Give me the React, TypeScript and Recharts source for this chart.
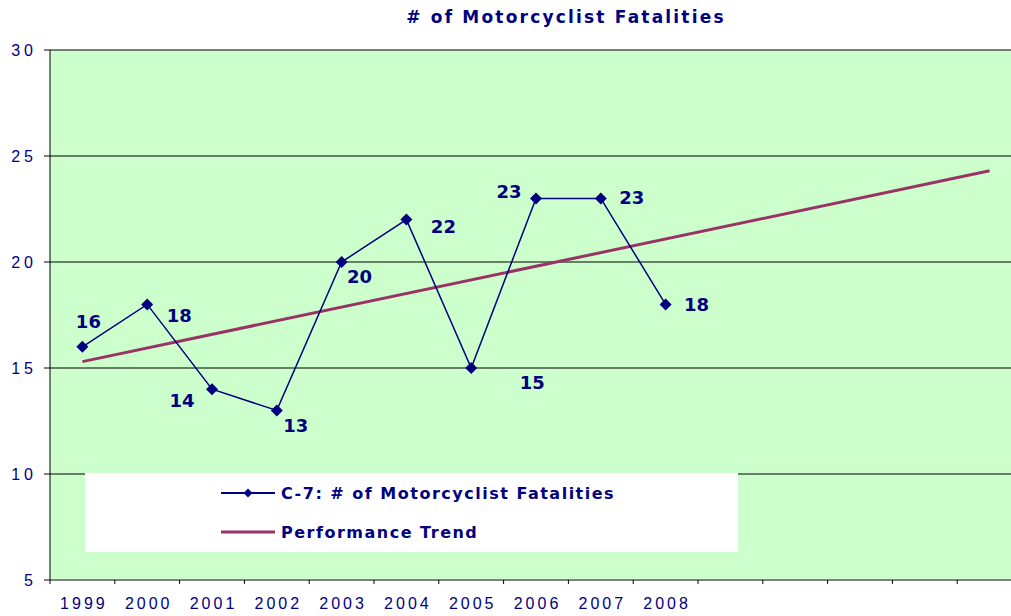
import { LineChart, Line, XAxis, YAxis, CartesianGrid, Legend, LabelList } from "recharts"

// category axis runs past the picture: 15 slots, only 1999-2008 are labelled
const YEARS = [
  "1999", "2000", "2001", "2002", "2003", "2004", "2005", "2006",
  "2007", "2008", "2009", "2010", "2011", "2012", "2013",
]
const LABELED_COUNT = 10

const FATALITIES = [16, 18, 14, 13, 20, 22, 15, 23, 23, 18]
// straight trend line: read at its two ends (1999 and the last slot)
const TREND = [15.3, null, null, null, null, null, null, null, null, null, null, null, null, null, 24.3]

const Y_TICKS = [5, 10, 15, 20, 25, 30]

const SERIES_NAMES: Record<string, string> = {
  fatalities: "C-7: # of Motorcyclist Fatalities",
  trend: "Performance Trend",
}
const SERIES_ORDER = ["fatalities", "trend"]

// where each value label sits relative to its point (text centre)
const LABEL_OFFSETS: Array<[number, number]> = [
  [6, -25], [32, 11], [-30, 11], [19, 15], [18, 14],
  [37, 7], [61, 14], [-27, -7], [31, -1], [31, 0],
]

const NAVY = "#000080"
const MAROON = "#993366"
const FONT = '"Liberation Sans", Arial, sans-serif'
const BOLD_FONT = '"DejaVu Sans", "Liberation Sans", sans-serif'

const rows = YEARS.map((year, i) => ({
  x: i + 0.5,
  year,
  fatalities: i < FATALITIES.length ? FATALITIES[i] : null,
  trend: TREND[i],
}))

const X_TICKS = Array.from({ length: YEARS.length * 2 + 1 }, (_, i) => i / 2)

function XTick(props: any) {
  const { x, y, payload } = props
  const v = payload.value as number
  if (Number.isInteger(v)) {
    return <line x1={x} x2={x} y1={y} y2={y + 4} stroke="#000" strokeWidth={1} />
  }
  const idx = Math.floor(v)
  if (idx >= LABELED_COUNT) return null
  return (
    <text
      x={x + 1.5}
      y={y + 29}
      textAnchor="middle"
      fill={NAVY}
      fontSize={16}
      fontFamily={FONT}
      letterSpacing={3}
    >
      {YEARS[idx]}
    </text>
  )
}

function YTick(props: any) {
  const { x, y, payload } = props
  return (
    <text
      x={x}
      y={y + 5.5}
      textAnchor="end"
      fill={NAVY}
      fontSize={16}
      fontFamily={FONT}
      letterSpacing={4}
    >
      {payload.value}
    </text>
  )
}

function Diamond(props: any) {
  const { cx, cy } = props
  if (cx == null || cy == null || props.value == null) return null
  return (
    <polygon
      points={`${cx},${cy - 6} ${cx + 6},${cy} ${cx},${cy + 6} ${cx - 6},${cy}`}
      fill={NAVY}
    />
  )
}

function PointLabel(props: any) {
  const { index, value } = props
  if (value == null) return null
  const px = props.x ?? props.viewBox?.x
  const py = props.y ?? props.viewBox?.y
  if (px == null || py == null) return null
  const [dx, dy] = LABEL_OFFSETS[index] ?? [0, -15]
  return (
    <text
      x={px + dx}
      y={py + dy + 6.5}
      textAnchor="middle"
      fill={NAVY}
      fontSize={18}
      fontWeight="bold"
      fontFamily={BOLD_FONT}
    >
      {value}
    </text>
  )
}

function LegendBox({ payload }: { payload?: Array<any> }) {
  if (!payload) return null
  const items = [...payload].sort(
    (a, b) => SERIES_ORDER.indexOf(a.dataKey) - SERIES_ORDER.indexOf(b.dataKey)
  )
  return (
    <div style={{ position: "relative", width: 653, height: 79, background: "#fff" }}>
      {items.map((entry, i) => {
        const isMain = entry.dataKey === "fatalities"
        return (
          <div
            key={entry.dataKey}
            style={{
              position: "absolute",
              left: 136,
              top: 10 + i * 39,
              height: 20,
              display: "flex",
              alignItems: "center",
              whiteSpace: "nowrap",
            }}
          >
            <svg width={54} height={20}>
              <line
                x1={0}
                x2={54}
                y1={10}
                y2={10}
                stroke={isMain ? NAVY : MAROON}
                strokeWidth={isMain ? 2 : 3}
              />
              {isMain && <polygon points="27,5.5 31.5,10 27,14.5 22.5,10" fill={NAVY} />}
            </svg>
            <span
              style={{
                marginLeft: 6,
                fontFamily: BOLD_FONT,
                fontWeight: "bold",
                fontSize: 16,
                letterSpacing: 1.5,
                color: NAVY,
              }}
            >
              {entry.value}
            </span>
          </div>
        )
      })}
    </div>
  )
}

export default function App() {
  return (
    <div
      style={{
        position: "fixed",
        left: 0,
        top: 0,
        width: 1011,
        height: 616,
        overflow: "hidden",
        background: "#fff",
      }}
    >
      <div
        style={{
          position: "absolute",
          left: 316,
          top: 9,
          width: 500,
          textAlign: "center",
          fontFamily: BOLD_FONT,
          fontWeight: "bold",
          fontSize: 17,
          lineHeight: 1,
          letterSpacing: 2.2,
          color: NAVY,
          whiteSpace: "nowrap",
          zIndex: 2,
        }}
      >
        # of Motorcyclist Fatalities
      </div>
      <LineChart
        width={1022}
        height={616}
        data={rows}
        margin={{ top: 50, right: 0, bottom: 0, left: 0 }}
      >
        <CartesianGrid vertical={false} stroke="#000" fill="#CCFFCC" fillOpacity={1} />
        <XAxis
          type="number"
          dataKey="x"
          domain={[0, YEARS.length]}
          ticks={X_TICKS}
          interval={0}
          allowDataOverflow
          tick={<XTick />}
          tickLine={false}
          tickSize={0}
          tickMargin={0}
          axisLine={{ stroke: "#808080", strokeWidth: 2 }}
          height={36}
        />
        <YAxis
          type="number"
          domain={[5, 30]}
          ticks={Y_TICKS}
          interval={0}
          width={50}
          tickSize={6}
          tickMargin={7}
          tick={<YTick />}
          tickLine={{ stroke: "#000" }}
          axisLine={{ stroke: "#000" }}
        />
        <Line
          dataKey="trend"
          name={SERIES_NAMES.trend}
          stroke={MAROON}
          strokeWidth={3}
          dot={false}
          activeDot={false}
          connectNulls
          legendType="line"
          isAnimationActive={false}
        />
        <Line
          dataKey="fatalities"
          name={SERIES_NAMES.fatalities}
          stroke={NAVY}
          strokeWidth={1.5}
          dot={<Diamond />}
          activeDot={false}
          legendType="line"
          isAnimationActive={false}
        >
          <LabelList dataKey="fatalities" content={<PointLabel />} />
        </Line>
        <Legend
          layout="horizontal"
          verticalAlign="middle"
          align="center"
          wrapperStyle={{ left: 85, top: 473, width: 653, height: 79 }}
          content={<LegendBox />}
        />
      </LineChart>
    </div>
  )
}
